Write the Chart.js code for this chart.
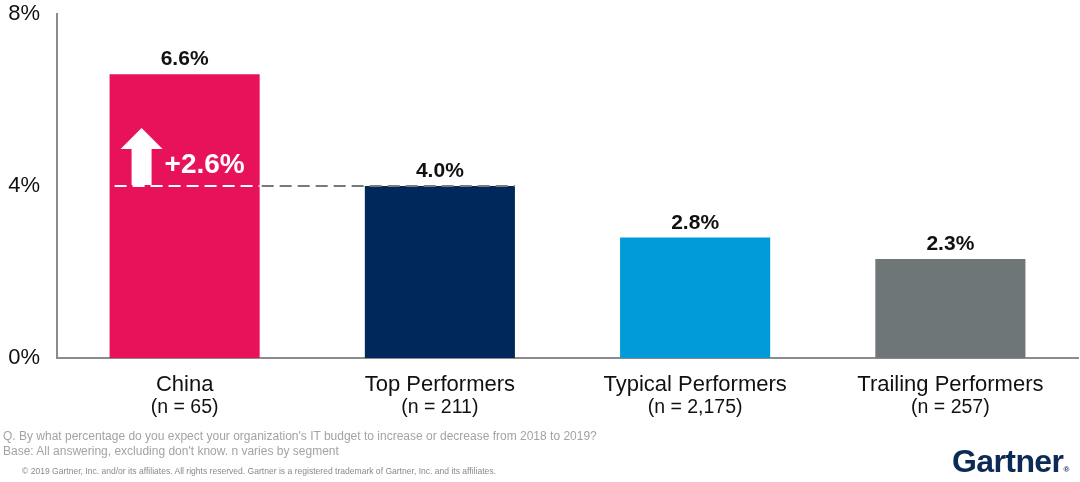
<!DOCTYPE html>
<html>
<head>
<meta charset="utf-8">
<script src="https://cdn.jsdelivr.net/npm/chart.js@4.4.1/dist/chart.umd.min.js"></script>
<style>
  html,body{margin:0;padding:0;background:#fff;}
  #wrap{position:relative;width:1080px;height:482px;overflow:hidden;font-family:"Liberation Sans",Arial,sans-serif;}
  canvas{position:absolute;left:0;top:0;}
  .note{position:absolute;left:3px;color:#a3a3a3;font-size:12px;white-space:nowrap;}
  .copy{position:absolute;left:22px;top:466px;color:#8a8a8a;font-size:8.55px;white-space:nowrap;}
  .logo{position:absolute;left:952px;top:443px;color:#0b2a55;font-size:32px;font-weight:bold;letter-spacing:-0.6px;white-space:nowrap;}
  .logo span{font-size:8px;letter-spacing:0;vertical-align:baseline;}
</style>
</head>
<body>
<div id="wrap">
  <canvas id="c" width="1080" height="482"></canvas>
  <div class="note" style="top:429px;">Q. By what percentage do you expect your organization's IT budget to increase or decrease from 2018 to 2019?</div>
  <div class="note" style="top:444px;">Base: All answering, excluding don't know. n varies by segment</div>
  <div class="copy">© 2019 Gartner, Inc. and/or its affiliates. All rights reserved. Gartner is a registered trademark of Gartner, Inc. and its affiliates.</div>
  <div class="logo">Gartner<span>®</span></div>
</div>
<script>
const categories = ["China", "Top Performers", "Typical Performers", "Trailing Performers"];
const sampleSizes = ["(n = 65)", "(n = 211)", "(n = 2,175)", "(n = 257)"];
const budgetGrowth = [6.6, 4.0, 2.8, 2.3];
const barColors = ["#e8125a", "#00285a", "#009bd8", "#6e7677"];
const yTicks = [0, 4, 8];
const referenceValue = 4.0;
const differenceLabel = "+2.6%";

const FONT = '"Liberation Sans", Arial, sans-serif';

const annotate = {
  id: 'annotate',
  afterDatasetsDraw(chart) {
    const ctx = chart.ctx;
    const x = chart.scales.x, y = chart.scales.y;
    const meta = chart.getDatasetMeta(0);
    ctx.save();
    // value labels
    ctx.fillStyle = '#111';
    ctx.font = 'bold 21px ' + FONT;
    ctx.textAlign = 'center';
    ctx.textBaseline = 'alphabetic';
    meta.data.forEach((bar, i) => {
      ctx.fillText(budgetGrowth[i].toFixed(1) + '%', bar.x, bar.y - 9);
    });
    // dashed reference line
    const china = meta.data[0], top = meta.data[1];
    const ry = y.getPixelForValue(referenceValue);
    const cl = china.x - china.width / 2, cr = china.x + china.width / 2;
    const tr = top.x + top.width / 2;
    ctx.lineWidth = 2;
    ctx.setLineDash([12, 6]);
    ctx.strokeStyle = '#ffffff';
    ctx.beginPath(); ctx.moveTo(cl + 5, ry); ctx.lineTo(cr, ry); ctx.stroke();
    ctx.strokeStyle = '#7a7a7a';
    ctx.beginPath(); ctx.moveTo(cr + 2, ry); ctx.lineTo(tr, ry); ctx.stroke();
    ctx.setLineDash([]);
    // arrow
    const ax = cl + 32;
    const headTop = y.getPixelForValue(referenceValue + 1.35);
    const headBase = y.getPixelForValue(referenceValue + 0.86);
    ctx.fillStyle = '#ffffff';
    ctx.beginPath();
    ctx.moveTo(ax, headTop);
    ctx.lineTo(ax + 21, headBase);
    ctx.lineTo(ax + 10, headBase);
    ctx.lineTo(ax + 10, ry - 1);
    ctx.lineTo(ax - 10, ry - 1);
    ctx.lineTo(ax - 10, headBase);
    ctx.lineTo(ax - 21, headBase);
    ctx.closePath();
    ctx.fill();
    // difference label
    ctx.font = 'bold 28px ' + FONT;
    ctx.textAlign = 'left';
    ctx.fillText(differenceLabel, ax + 23, ry - 13);
    // category labels
    ctx.fillStyle = '#111';
    ctx.textAlign = 'center';
    categories.forEach((c, i) => {
      const px = x.getPixelForValue(i);
      ctx.font = '22px ' + FONT;
      ctx.fillText(c, px, 391);
      ctx.font = '19.5px ' + FONT;
      ctx.fillText(sampleSizes[i], px, 413);
    });
    ctx.restore();
  }
};

new Chart(document.getElementById('c'), {
  type: 'bar',
  data: {
    labels: categories,
    datasets: [{
      data: budgetGrowth,
      backgroundColor: barColors,
      categoryPercentage: 1.0,
      barPercentage: 0.588
    }]
  },
  options: {
    responsive: false,
    animation: false,
    devicePixelRatio: 1,
    layout: { padding: { top: 0, right: 2, left: 0, bottom: 0 } },
    plugins: { legend: { display: false }, tooltip: { enabled: false } },
    scales: {
      x: {
        grid: { display: false },
        border: { display: true, color: '#8c8c8c', width: 2 },
        ticks: { display: false },
        afterFit(s) { s.height = 124; }
      },
      y: {
        min: 0, max: 8,
        afterBuildTicks(s) { s.ticks = yTicks.map(v => ({ value: v })); },
        grid: { display: false, drawTicks: false },
        border: { display: true, color: '#8c8c8c', width: 2 },
        ticks: {
          padding: 17,
          color: '#111',
          font: { family: FONT, size: 22 },
          callback: v => v + '%'
        },
        afterFit(s) { s.width = 57; s.paddingTop = 14; }
      }
    }
  },
  plugins: [annotate]
});
</script>
</body>
</html>
